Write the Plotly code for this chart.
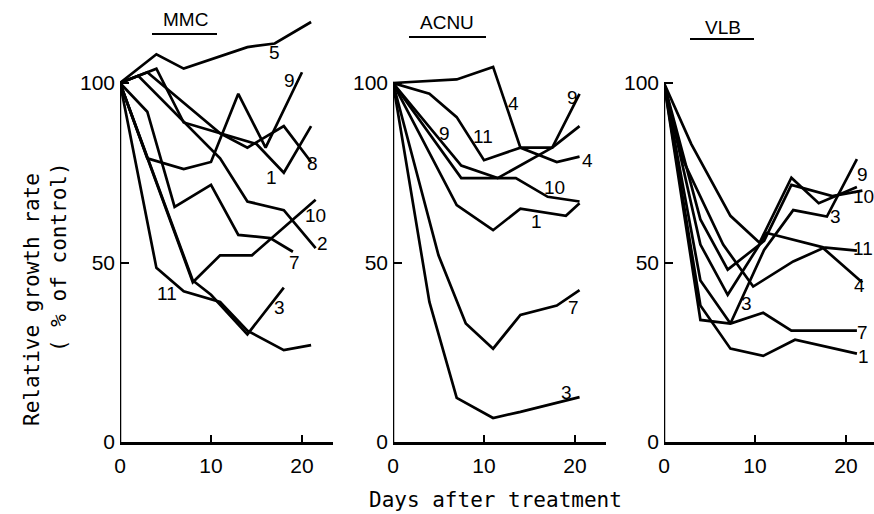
import plotly.graph_objects as go

# ---------------- data ----------------
# MMC panel
mmc_names = ["5", "9", "1", "8", "2", "7", "10", "11", "3"]
mmc_days = [
    [0, 4, 7, 14, 17, 21],
    [0, 3, 7, 10, 13, 16, 20],
    [0, 3, 11, 15, 18, 21],
    [0, 4, 7, 11, 14, 18, 21],
    [0, 2, 11, 14, 18, 21.5],
    [0, 3, 6, 10, 13, 16.5, 19],
    [0, 8, 11, 14.5, 21.5],
    [0, 4, 7, 9.5, 11, 14, 18, 21],
    [0, 8, 10, 12.8, 14, 18],
]
mmc_vals = [
    [100, 108, 104, 110, 111, 117],
    [100, 79, 76, 78, 97, 82, 103],
    [100, 103, 86, 83, 75, 88],
    [100, 104, 89, 86, 82, 88, 78],
    [100, 102, 79, 67, 64.6, 54],
    [100, 92, 65.5, 71.6, 57.7, 56.8, 53],
    [100, 44.5, 52, 52, 67.5],
    [100, 48.5, 42, 40, 39, 31, 25.6, 27],
    [100, 45, 41, 33.4, 30, 43],
]
mmc_label_text = ["5", "9", "8", "1", "10", "2", "7", "11", "3"]
mmc_label_x = [17, 18.6, 21.2, 16.7, 21.5, 22.2, 19.2, 5.2, 17.5]
mmc_label_y = [108.6, 100.8, 77.7, 73.8, 63, 55.4, 50, 41.5, 37.6]

# ACNU panel
acnu_names = ["4", "11", "9", "10", "1", "7", "3"]
acnu_days = [
    [0, 7, 11, 14, 17.5, 20.5],
    [0, 4, 7, 10, 14, 18, 20.5],
    [0, 7.5, 11.5, 17.5, 20.5],
    [0, 7.5, 13.5, 17, 20.5],
    [0, 7, 11, 14, 19, 20.5],
    [0, 5, 8, 11, 14, 18, 20.5],
    [0, 4, 7, 11, 14, 20.5],
]
acnu_vals = [
    [100, 101, 104.5, 82, 82, 88],
    [100, 97, 90.5, 78.5, 82, 78, 79.5],
    [100, 77, 73.5, 82, 97],
    [100, 73.5, 73.5, 68.3, 67],
    [100, 66, 59, 65, 63, 66.5],
    [100, 52, 33, 26, 35.4, 38, 42.3],
    [100, 39, 12.3, 6.7, 8.4, 12.5],
]
acnu_label_text = ["4", "9", "9", "11", "4", "10", "1", "7", "3"]
acnu_label_x = [13.2, 19.7, 5.7, 9.9, 21.4, 17.8, 15.8, 19.8, 19.1]
acnu_label_y = [94.4, 96, 86, 85, 78.5, 71, 61.3, 37.6, 13.9]

# VLB panel
vlb_names = ["9", "10", "3", "11", "4", "7", "1"]
vlb_days = [
    [0, 3, 7.3, 10.5, 14, 17, 21.2],
    [0, 4, 7, 11, 14, 18.5, 21.8],
    [0, 4, 7.3, 11, 14.2, 17.9, 21.2],
    [0, 4, 7, 11.3, 17.5, 21.2],
    [0, 2, 6.5, 9.8, 14.2, 17.5, 21.8],
    [0, 4, 7.3, 10.9, 14, 21.2],
    [0, 4, 7.3, 10.9, 14.4, 21.2],
]
vlb_vals = [
    [100, 83, 63, 55.5, 73.6, 66.5, 71],
    [100, 62, 48, 56, 71.6, 68.5, 70],
    [100, 45, 33, 53.5, 64.6, 62.8, 78.8],
    [100, 55, 41, 58.2, 54.2, 53.3],
    [100, 79, 55, 43.3, 50.3, 54, 44.4],
    [100, 34, 33, 36, 31, 31],
    [100, 38, 26, 24, 28.5, 24.6],
]
vlb_label_text = ["9", "10", "3", "11", "4", "3", "7", "1"]
vlb_label_x = [21.8, 21.9, 18.8, 21.9, 21.5, 9.1, 21.8, 21.9]
vlb_label_y = [74.5, 68.5, 62.7, 54, 43.7, 38.7, 30.6, 23.7]

panel_titles = ["MMC", "ACNU", "VLB"]
x_ticks = [0, 10, 20]
y_ticks = [0, 50, 100]

# ---------------- figure ----------------
W, H = 874, 514


def py(v):
    """pixel row from the top -> paper fraction"""
    return 1 - v / H


NUM_FONT = "Liberation Sans, Arial, sans-serif"
MONO_FONT = "DejaVu Sans Mono, monospace"

fig = go.Figure()

panels = [
    (mmc_names, mmc_days, mmc_vals, mmc_label_text, mmc_label_x, mmc_label_y),
    (acnu_names, acnu_days, acnu_vals, acnu_label_text, acnu_label_x, acnu_label_y),
    (vlb_names, vlb_days, vlb_vals, vlb_label_text, vlb_label_x, vlb_label_y),
]

x_px = [(120, 333), (393, 606), (664, 874)]
px_per_day = 9.1
y0_px, ytop_px = 442, 15
px_per_unit = 3.59

annotations = []
shapes = []
for i, (names, days, vals, lt, lx, ly) in enumerate(panels):
    sfx = "" if i == 0 else str(i + 1)
    for n, d, v in zip(names, days, vals):
        fig.add_trace(go.Scatter(
            x=d, y=v, mode="lines", name=n,
            line=dict(color="black", width=2.7),
            xaxis="x" + sfx, yaxis="y" + sfx, showlegend=False,
            hoverinfo="skip", cliponaxis=False))
    for t, xx, yy in zip(lt, lx, ly):
        annotations.append(dict(
            x=xx, y=yy, xref="x" + sfx, yref="y" + sfx, text=t,
            xanchor="center", yanchor="middle",
            showarrow=False, font=dict(family=NUM_FONT, size=19, color="black")))
    a, b = x_px[i]
    xr = (b - a) / px_per_day
    fig.update_layout(**{
        "xaxis" + sfx: dict(
            domain=[a / W, b / W], range=[0, xr], anchor="y" + sfx,
            showgrid=False, zeroline=False, showline=True, linecolor="black",
            linewidth=2.5, ticks="inside", ticklen=7, tickwidth=2,
            tickcolor="black", tickvals=x_ticks, automargin=False,
            tickfont=dict(family=NUM_FONT, size=21, color="black"),
            ticklabelstandoff=3),
        "yaxis" + sfx: dict(
            domain=[py(y0_px), py(ytop_px)],
            range=[0, (y0_px - ytop_px) / px_per_unit], anchor="x" + sfx,
            showgrid=False, zeroline=False, showline=False, automargin=False,
            ticks="inside", ticklen=9, tickwidth=2, tickcolor="black",
            tickvals=y_ticks,
            tickfont=dict(family=NUM_FONT, size=21, color="black"),
            ticklabelstandoff=4),
    })
    # y axis line from 0 to 100
    shapes.append(dict(type="line", xref="x" + sfx, yref="y" + sfx,
                       x0=0, x1=0, y0=0, y1=100,
                       line=dict(color="black", width=2.5)))

# panel titles with underline
title_pos = [(185, 20, 152, 217, 34), (447, 23, 409, 486, 37), (723, 27, 690, 754, 39)]
for t, (cx, cy, u0, u1, uy) in zip(panel_titles, title_pos):
    annotations.append(dict(x=cx / W, y=py(cy), xref="paper", yref="paper",
                            text=t, showarrow=False, xanchor="center", yanchor="middle",
                            font=dict(family=NUM_FONT, size=19, color="black")))
    shapes.append(dict(type="line", xref="paper", yref="paper",
                       x0=u0 / W, x1=u1 / W, y0=py(uy), y1=py(uy),
                       line=dict(color="black", width=1.8)))

annotations.append(dict(x=496 / W, y=py(500), xref="paper", yref="paper",
                        text="Days after treatment", showarrow=False,
                        xanchor="center", yanchor="middle",
                        font=dict(family=MONO_FONT, size=21, color="black")))
annotations.append(dict(x=32 / W, y=py(300), xref="paper", yref="paper",
                        text="Relative growth rate", showarrow=False, textangle=-90,
                        xanchor="center", yanchor="middle",
                        font=dict(family=MONO_FONT, size=21, color="black")))
annotations.append(dict(x=59 / W, y=py(257), xref="paper", yref="paper",
                        text="( % of control)", showarrow=False, textangle=-90,
                        xanchor="center", yanchor="middle",
                        font=dict(family=MONO_FONT, size=21, color="black")))

fig.update_layout(width=W, height=H, margin=dict(l=0, r=0, t=0, b=0, autoexpand=False),
                  paper_bgcolor="white", plot_bgcolor="white",
                  annotations=annotations, shapes=shapes, showlegend=False)

page_fix = (
    "var s=document.createElement('style');"
    "s.textContent='html,body{margin:0;padding:0;overflow:hidden;}"
    "body>div{font-size:0;line-height:0;}';"
    "document.head.appendChild(s);"
)
fig.write_html("out.html", config={"displayModeBar": False, "staticPlot": True},
               post_script=page_fix)
